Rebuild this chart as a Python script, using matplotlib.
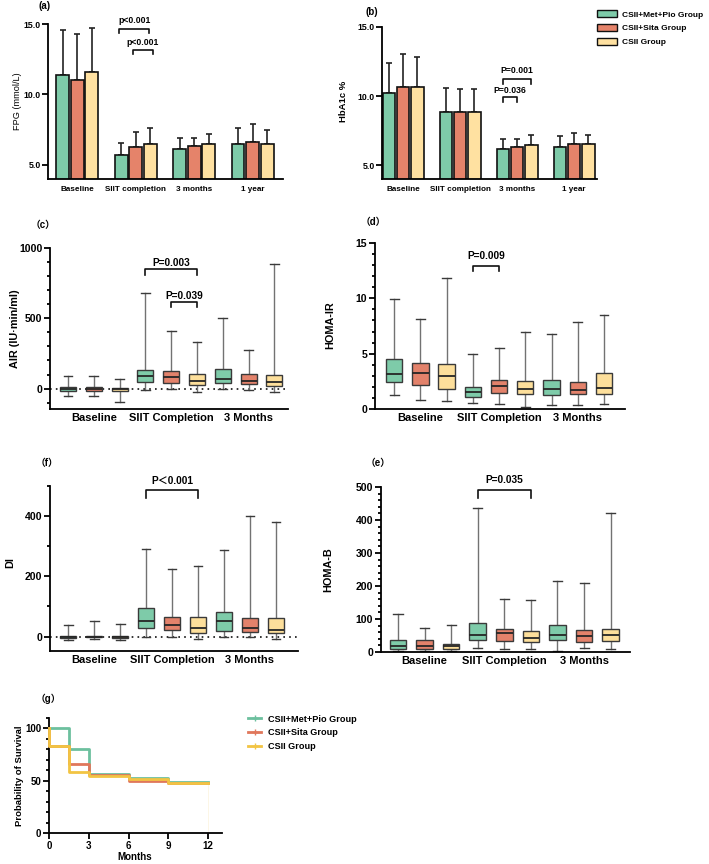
import matplotlib
matplotlib.use("Agg")
import matplotlib.pyplot as plt
from matplotlib.patches import Patch
from matplotlib.lines import Line2D
from matplotlib.ticker import MultipleLocator, FormatStrFormatter

plt.rcParams['font.family'] = ['Liberation Sans', 'Noto Sans CJK SC', 'DejaVu Sans']
plt.rcParams['font.weight'] = 'bold'

groups = ['CSII+Met+Pio Group', 'CSII+Sita Group', 'CSII Group']
bar_colors = ['#7ECBA9', '#E5836A', '#FFE1A1']
box_colors = ['#7ECBA9', '#E3826B', '#FDDF9B']
km_colors = ['#6CC09E', '#E0775B', '#F2C443']

# (a) FPG, bars = mean, whisker = +SD
bar_times = ['Baseline', 'SIIT completion', '3 months', '1 year']
fpg_met = [11.37, 5.68, 6.16, 6.46]
fpg_sita = [11.06, 6.27, 6.37, 6.65]
fpg_csii = [11.60, 6.46, 6.46, 6.46]
fpg_met_sd = [3.18, 0.85, 0.75, 1.16]
fpg_sita_sd = [3.24, 1.04, 0.54, 1.27]
fpg_csii_sd = [3.14, 1.16, 0.73, 1.04]

# (b) HbA1c
hba_met = [10.24, 8.87, 6.14, 6.35]
hba_sita = [10.65, 8.87, 6.33, 6.53]
hba_csii = [10.67, 8.87, 6.43, 6.53]
hba_met_sd = [2.17, 1.73, 0.76, 0.75]
hba_sita_sd = [2.41, 1.61, 0.57, 0.77]
hba_csii_sd = [2.15, 1.61, 0.74, 0.64]

# box plots: 9 boxes = 3 time points x 3 groups
box_times = ['Baseline', 'SIIT Completion', '3 Months']

air_lo = [-50, -55, -95, -7, 0, -26, -2, -12, -26]
air_q1 = [-19, -19, -14, 47, 43, 26, 40, 36, 21]
air_med = [-2, -2, -5, 90, 83, 57, 71, 55, 47]
air_q3 = [12, 10, 2, 130, 123, 104, 142, 104, 95]
air_hi = [88, 88, 71, 680, 412, 332, 502, 272, 886]

ir_lo = [1.23, 0.81, 0.69, 0.54, 0.42, 0.21, 0.39, 0.36, 0.42]
ir_q1 = [2.41, 2.14, 1.78, 1.11, 1.45, 1.33, 1.27, 1.39, 1.36]
ir_med = [3.16, 3.28, 2.95, 1.54, 2.08, 1.84, 1.81, 1.75, 1.87]
ir_q3 = [4.55, 4.16, 4.07, 1.99, 2.59, 2.50, 2.62, 2.47, 3.28]
ir_hi = [9.94, 8.16, 11.8, 4.94, 5.51, 6.99, 6.75, 7.83, 8.49]

di_lo = [-13, -9, -10, -1, 0, -9, 0, 0, -9]
di_q1 = [-6, -3, -6, 27, 21, 13, 20, 16, 11]
di_med = [-1, 0, -2, 53, 38, 27, 50, 30, 23]
di_q3 = [3, 3, 1, 96, 66, 64, 82, 62, 63]
di_hi = [40, 50, 43, 291, 226, 233, 288, 401, 379]

hb_lo = [2, 4, 2, 12, 8, 10, 4, 12, 8]
hb_q1 = [8, 10, 8, 35, 33, 29, 35, 30, 33]
hb_med = [19, 18, 17, 53, 57, 43, 53, 48, 53]
hb_q3 = [35, 35, 25, 89, 71, 63, 81, 68, 70]
hb_hi = [114, 73, 83, 436, 160, 158, 215, 210, 421]

# (g) survival
km_t_met = [0, 1.5, 3, 6, 9, 12]
km_s_met = [100, 80.4, 56.6, 52.4, 48.8, 48.8]
km_t_sita = [0, 0, 1.5, 3, 6, 9, 12]
km_s_sita = [100, 83, 66, 55.5, 50, 48.3, 48.3]
km_t_csii = [0, 0, 1.5, 3, 6, 9, 12]
km_s_csii = [100, 83, 58.8, 54.7, 52, 48, 48]

W, H = 709, 864
fig = plt.figure(figsize=(W / 100, H / 100), dpi=100)


def add_ax(l, t, r, b):
    return fig.add_axes([l / W, 1 - b / H, (r - l) / W, (b - t) / H])


def ftext(x, y, s, **kw):
    fig.text(x / W, 1 - y / H, s, ha='center', va='center', **kw)


def style(ax, lw=1.3):
    for s in ['top', 'right']:
        ax.spines[s].set_visible(False)
    for s in ['left', 'bottom']:
        ax.spines[s].set_linewidth(lw)
    ax.tick_params(axis='y', width=lw, length=4, direction='out', pad=1.5)
    ax.tick_params(axis='y', which='minor', width=lw, length=2.5)
    ax.tick_params(axis='x', length=0)


def bracket(ax, x1, x2, y, drop, label, ty, fs):
    ax.plot([x1, x1, x2, x2], [y - drop, y, y, y - drop], color='#111', lw=1.2, clip_on=False)
    ax.text((x1 + x2) / 2, ty, label, ha='center', va='center', fontsize=fs, clip_on=False)


def bar_panel(ax, means, sds, ylim):
    off = [-0.25, 0, 0.25]
    for k in range(3):
        xs = [i + off[k] for i in range(len(bar_times))]
        ax.bar(xs, means[k], width=0.22, color=bar_colors[k], edgecolor='#111', linewidth=1.2, zorder=2)
        ax.errorbar(xs, means[k], yerr=[[0] * len(xs), sds[k]], fmt='none', ecolor='#222',
                    elinewidth=1.2, capsize=2.3, capthick=1.2, zorder=1)
    ax.set_ylim(*ylim)
    ax.set_xticks(range(len(bar_times)))
    ax.set_xticklabels(bar_times, fontsize=5.9)
    ax.tick_params(axis='x', pad=5)
    ax.yaxis.set_major_locator(MultipleLocator(5))
    ax.yaxis.set_major_formatter(FormatStrFormatter('%.1f'))
    style(ax)
    ax.tick_params(axis='y', pad=1)
    for t in ax.get_yticklabels():
        t.set_fontsize(6.3)


def box_panel(ax, lo, q1, med, q3, hi, ylim, minor):
    stats = [dict(whislo=lo[i], q1=q1[i], med=med[i], q3=q3[i], whishi=hi[i], fliers=[])
             for i in range(9)]
    bp = ax.bxp(stats, positions=range(1, 10), widths=0.62, patch_artist=True, showfliers=False,
                capwidths=0.34,
                boxprops=dict(edgecolor='#3a3a3a', linewidth=1.0),
                medianprops=dict(color='#262626', linewidth=1.3),
                whiskerprops=dict(color='#727272', linewidth=1.0),
                capprops=dict(color='#3a3a3a', linewidth=1.0))
    for i, p in enumerate(bp['boxes']):
        p.set_facecolor(box_colors[i % 3])
        p.set_zorder(3)
    for m in bp['medians']:
        m.set_zorder(4)
    ax.set_ylim(*ylim)
    ax.set_xticks([2, 5, 8])
    ax.set_xticklabels(box_times, fontsize=8)
    ax.tick_params(axis='x', pad=3)
    ax.yaxis.set_minor_locator(MultipleLocator(minor))
    for t in ax.get_yticklabels():
        t.set_fontsize(7.6)
    style(ax)


# (a)
ax_a = add_ax(48, 24, 283, 179)
bar_panel(ax_a, [fpg_met, fpg_sita, fpg_csii], [fpg_met_sd, fpg_sita_sd, fpg_csii_sd], (4, 15))
ax_a.set_xlim(-0.5, 3.52)
bracket(ax_a, 0.72, 1.23, 14.67, 0.3, 'p<0.001', 15.26, 6.2)
bracket(ax_a, 0.96, 1.29, 13.18, 0.3, 'p<0.001', 13.7, 6.2)
ftext(45, 6, '(a)', fontsize=7)
ftext(17, 101, 'FPG (mmol/L)', rotation=90, fontsize=6.6, fontweight='normal')

# (b)
ax_b = add_ax(382, 27, 597, 179)
bar_panel(ax_b, [hba_met, hba_sita, hba_csii], [hba_met_sd, hba_sita_sd, hba_csii_sd], (4, 15))
ax_b.set_xlim(-0.37, 3.4)
bracket(ax_b, 1.75, 2.25, 11.25, 0.35, 'P=0.001', 11.88, 6.2)
bracket(ax_b, 1.75, 2.0, 9.95, 0.35, 'P=0.036', 10.42, 6.2)
ftext(372, 12, '(b)', fontsize=7)
ftext(343, 101, 'HbA1c %', rotation=90, fontsize=6.8)
fig.legend(handles=[Patch(facecolor=bar_colors[k], edgecolor='#111', linewidth=1.0, label=groups[k])
                    for k in range(3)],
           loc='upper left', bbox_to_anchor=(594 / W, 1 - 7 / H), frameon=False, fontsize=6,
           handlelength=2.3, handleheight=0.9, handletextpad=0.6, labelspacing=0.65, borderaxespad=0)

# (c)
ax_c = add_ax(50, 248, 288, 409)
box_panel(ax_c, air_lo, air_q1, air_med, air_q3, air_hi, (-145, 1000), 100)
ax_c.set_xlim(0.3, 9.53)
ax_c.yaxis.set_major_locator(MultipleLocator(500))
ax_c.axhline(0, color='#111', lw=1.2, ls=(0, (1, 2.5)), zorder=1)
bracket(ax_c, 4, 6, 851, 41, 'P=0.003', 893, 7.3)
bracket(ax_c, 5, 6, 616, 38, 'P=0.039', 661, 7.3)
ftext(43, 225, '（c）', fontsize=7)
ftext(15, 329, 'AIR (IU·min/ml)', rotation=90, fontsize=7.8)

# (d)
ax_d = add_ax(375, 243, 625, 409)
box_panel(ax_d, ir_lo, ir_q1, ir_med, ir_q3, ir_hi, (0, 15), 1)
ax_d.set_xlim(0.27, 9.8)
ax_d.yaxis.set_major_locator(MultipleLocator(5))
bracket(ax_d, 4, 5, 12.92, 0.45, 'P=0.009', 13.8, 7.3)
ftext(373, 222, '（d）', fontsize=7)
ftext(330, 325, 'HOMA-IR', rotation=90, fontsize=7.8)

# (f)
ax_f = add_ax(50, 486, 298, 651)
box_panel(ax_f, di_lo, di_q1, di_med, di_q3, di_hi, (-48, 500), 100)
ax_f.set_xlim(0.3, 9.85)
ax_f.yaxis.set_major_locator(MultipleLocator(200))
ax_f.axhline(0, color='#111', lw=1.2, ls=(0, (1, 2.5)), zorder=1)
bracket(ax_f, 4, 6, 486, 27, 'P＜0.001', 517, 7.3)
ftext(47, 463, '（f）', fontsize=7)
ftext(10, 563, 'DI', rotation=90, fontsize=7.8)

# (e)
ax_e = add_ax(381, 487, 630, 652)
box_panel(ax_e, hb_lo, hb_q1, hb_med, hb_q3, hb_hi, (0, 500), 20)
ax_e.set_xlim(0.36, 9.73)
ax_e.yaxis.set_major_locator(MultipleLocator(100))
bracket(ax_e, 4, 6, 490, 23, 'P=0.035', 520, 7.3)
ftext(378, 463, '（e）', fontsize=7)
ftext(328, 570, 'HOMA-B', rotation=90, fontsize=7.8)

# (g)
ax_g = add_ax(49, 718, 222, 833)
km = [(km_t_met, km_s_met), (km_t_sita, km_s_sita), (km_t_csii, km_s_csii)]
for k in [1, 0, 2]:
    t, s = km[k]
    ax_g.step(t, s, where='post', color=km_colors[k], lw=2, zorder=2 + k, clip_on=False)
ax_g.plot([km_t_csii[-1]] * 2, [0, km_s_csii[-1]], color='#FBF3DC', lw=0.5, zorder=1)
ax_g.set_xlim(0, 13.05)
ax_g.set_ylim(0, 110)
ax_g.set_xticks([0, 3, 6, 9, 12])
ax_g.yaxis.set_major_locator(MultipleLocator(50))
ax_g.yaxis.set_minor_locator(MultipleLocator(10))
style(ax_g)
ax_g.tick_params(axis='x', length=4, width=1.3, pad=2)
for t in ax_g.get_xticklabels() + ax_g.get_yticklabels():
    t.set_fontsize(7)
ftext(48, 699, '（g）', fontsize=7)
ftext(20, 776, 'Probability of Survival', rotation=90, fontsize=6.8)
ftext(135, 857, 'Months', fontsize=7)
ax_g.legend(handles=[Line2D([0], [0], color=km_colors[k], lw=2, marker='+', ms=4, label=groups[k])
                     for k in range(3)],
            loc='upper left', bbox_to_anchor=(244 / W, 1 - 711 / H), bbox_transform=fig.transFigure,
            frameon=False, fontsize=6.6, handlelength=1.5, handletextpad=0.7, labelspacing=0.5,
            borderaxespad=0)

fig.savefig('out.png', dpi=100)
